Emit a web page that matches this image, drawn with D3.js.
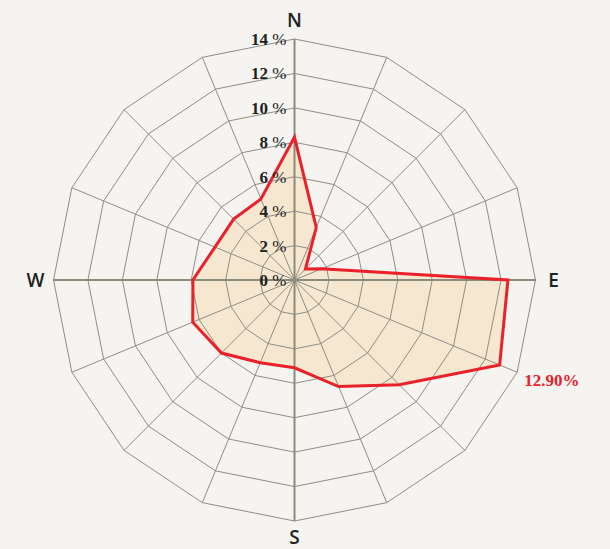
<!DOCTYPE html>
<html>
<head>
<meta charset="utf-8">
<script src="https://cdn.jsdelivr.net/npm/d3@7"></script>
<style>
  html, body { margin: 0; padding: 0; background: #f5f4f0; }
  svg { display: block; }
</style>
</head>
<body>
<svg id="rose" width="610" height="549"></svg>
<script>
// wind directions, clockwise from north
const directions = ['N','NNE','NE','ENE','E','ESE','SE','SSE','S','SSW','SW','WSW','W','WNW','NW','NNW'];
// share of time (%) per direction
const frequency = [8.3, 3.3, 0.9, 1.7, 12.4, 12.9, 8.6, 6.7, 5.1, 5.2, 6.0, 6.4, 5.9, 5.0, 5.0, 5.1];
const ringTicks = [0, 2, 4, 6, 8, 10, 12, 14];
const compassLabels = ['N', 'E', 'S', 'W'];
const highlightIndex = 5;
const highlightLabel = '12.90%';

const width = 610, height = 549;
const cx = 294.5, cy = 280, outerR = 241;

const svg = d3.select('#rose');

const r = d3.scaleLinear().domain([0, 14]).range([0, outerR]);
const angle = d3.scaleLinear().domain([0, directions.length]).range([0, 2 * Math.PI]);

const g = svg.append('g').attr('transform', 'translate(' + cx + ',' + cy + ')');

const radial = d3.lineRadial()
	.angle((d, i) => angle(i))
	.radius(d => r(d))
	.curve(d3.curveLinearClosed);

function pos(i, v) {
	const a = angle(i);
	return [r(v) * Math.sin(a), -r(v) * Math.cos(a)];
}

// filled area
g.append('path')
	.attr('class', 'area')
	.attr('d', radial(frequency))
	.style('fill', '#f6e7d0')
	.style('stroke', 'none');

// rings
const grid = g.append('g').attr('class', 'grid');
grid.selectAll('.ring')
	.data(ringTicks.filter(t => t > 0))
	.enter().append('path')
	.attr('class', 'ring')
	.attr('d', t => radial(directions.map(() => t)))
	.style('fill', 'none')
	.style('stroke', '#8e8e86')
	.style('stroke-width', 1);

// spokes
grid.selectAll('.spoke')
	.data(directions)
	.enter().append('line')
	.attr('class', 'spoke')
	.attr('x1', 0).attr('y1', 0)
	.attr('x2', (d, i) => pos(i, 14)[0])
	.attr('y2', (d, i) => pos(i, 14)[1])
	.style('stroke', (d, i) => i % 4 === 0 ? '#8b8b7c' : '#8e8e86')
	.style('stroke-width', (d, i) => i % 4 === 0 ? 2 : 1);

// outline
g.append('path')
	.attr('class', 'outline')
	.attr('d', radial(frequency))
	.style('fill', 'none')
	.style('stroke', '#e8212b')
	.style('stroke-width', 3)
	.style('stroke-linejoin', 'miter');

// ring labels up the north axis
const tickLabels = g.selectAll('.tick-label')
	.data(ringTicks)
	.enter().append('text')
	.attr('class', 'tick-label')
	.attr('x', -8)
	.attr('y', t => -r(t) + 6)
	.attr('text-anchor', 'end')
	.style('font-family', '"Liberation Serif", serif')
	.style('font-size', '17px')
	.style('fill', '#222');
tickLabels.append('tspan').style('font-weight', 'bold').text(t => t);
tickLabels.append('tspan').style('font-weight', 'normal').text(' %');

// compass letters
const compassPos = {
	N: [0, -r(14) - 12],
	E: [r(14) + 18, 7],
	S: [0, r(14) + 23],
	W: [-r(14) - 18, 7]
};
g.selectAll('.compass')
	.data(compassLabels)
	.enter().append('text')
	.attr('class', 'compass')
	.attr('x', d => compassPos[d][0])
	.attr('y', d => compassPos[d][1])
	.attr('text-anchor', 'middle')
	.style('font-family', '"Open Sans", sans-serif')
	.style('font-size', '19px')
	.style('font-weight', 600)
	.style('fill', '#222')
	.text(d => d);

// highlighted value
const hp = pos(highlightIndex, 14);
g.append('text')
	.attr('class', 'highlight')
	.attr('x', hp[0] + 7)
	.attr('y', hp[1] + 14)
	.style('font-family', '"Liberation Serif", serif')
	.style('font-size', '17px')
	.style('font-weight', 'bold')
	.style('fill', '#e8212b')
	.text(highlightLabel);
</script>
</body>
</html>
